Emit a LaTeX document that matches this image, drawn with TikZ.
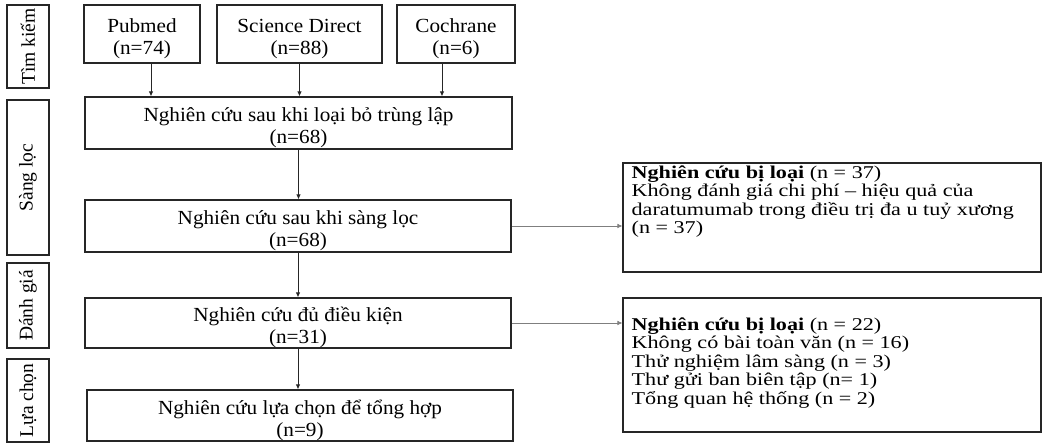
\documentclass[tikz,border=0pt]{standalone}
\usepackage{fontspec}
\setmainfont{Liberation Serif}
\newfontfamily\pfbox{Liberation Serif}[FakeStretch=1.06]
\newfontfamily\pfex{Liberation Serif}[FakeStretch=1.23]
\usetikzlibrary{arrows.meta,positioning}
\definecolor{pfLine}{HTML}{262626}
\definecolor{pfGrey}{HTML}{7F7F7F}

\begin{document}
\begin{tikzpicture}[x=1pt, y=-1pt,
  phase/.style={draw=pfLine, line width=1.1pt, rotate=90, inner sep=0pt, minimum height=42pt, font=\fontsize{19.5}{21}\selectfont},
  stgbox/.style={draw=pfLine, line width=1.1pt, inner sep=0pt, align=center, text height=42pt, text depth=0pt, font=\pfbox\fontsize{20}{22}\selectfont},
  exbox/.style={draw=pfLine, line width=1.1pt, inner sep=0pt, minimum width=418pt},
  extxt/.style={inner sep=0pt, align=left, font=\pfex\fontsize{18}{18.5}\selectfont},
  arr/.style={-{Latex[length=5pt,width=4.5pt]}, line width=0.9pt, pfLine},
  sarr/.style={-{Latex[length=5pt,width=4.5pt]}, line width=0.6pt, pfGrey}]
\useasboundingbox (0,0) rectangle (1045,443);
% giai đoạn
\node[phase, minimum width=83pt] (tk) at (28,46.5) {Tìm kiếm};
\node[phase, minimum width=155pt] (sl) at (28,177.5) {Sàng lọc};
\node[phase, minimum width=85pt] (dg) at (28,305.5) {Đánh giá};
\node[phase, minimum width=83pt] (lc) at (28,400.5) {Lựa chọn};

% nguồn dữ liệu
\node[stgbox, minimum width=116pt, minimum height=58pt] (pub) at (142,34) {Pubmed\\(n=74)};
\node[stgbox, minimum width=165pt, minimum height=58pt] (sd) at (299.5,34) {Science Direct\\(n=88)};
\node[stgbox, minimum width=118pt, minimum height=58pt] (coch) at (456,34) {Cochrane\\(n=6)};

\node[stgbox, minimum width=427pt, minimum height=52pt] (dup) at (298.5,123) {Nghiên cứu sau khi loại bỏ trùng lập\\(n=68)};
\node[stgbox, minimum width=426pt, minimum height=52pt] (scr) at (298,226) {Nghiên cứu sau khi sàng lọc\\(n=68)};
\node[stgbox, minimum width=426pt, minimum height=50pt] (elig) at (298,323) {Nghiên cứu đủ điều kiện\\(n=31)};
\node[stgbox, minimum width=426pt, minimum height=51pt] (incl) at (300,415.5) {Nghiên cứu lựa chọn để tổng hợp\\(n=9)};

% bị loại
\node[exbox, minimum height=109pt] (ex1) at (832,217.5) {};
\node[extxt, below right=3pt and 9pt of ex1.north west] (ex1t)
  {\textbf{Nghiên cứu bị loại} (n = 37)\\Không đánh giá chi phí – hiệu quả của\\daratumumab trong điều trị đa u tuỷ xương\\(n = 37)};
\node[exbox, minimum height=134pt] (ex2) at (832,365) {};
\node[extxt, below right=20pt and 9pt of ex2.north west] (ex2t)
  {\textbf{Nghiên cứu bị loại} (n = 22)\\Không có bài toàn văn (n = 16)\\Thử nghiệm lâm sàng (n = 3)\\Thư gửi ban biên tập (n= 1)\\Tổng quan hệ thống (n = 2)};

\draw[arr] ([xshift=9pt]pub.south) -- ([xshift=9pt]pub.south |- dup.north);
\draw[arr] (sd.south) -- (sd.south |- dup.north);
\draw[arr] ([xshift=-14pt]coch.south) -- ([xshift=-14pt]coch.south |- dup.north);
\foreach \a/\b in {dup/scr,scr/elig,elig/incl}{\draw[arr] (\a.south) -- (\a.south |- \b.north);}
\draw[sarr] (scr.east) -- (scr.east -| ex1.west);
\draw[sarr] (elig.east) -- (elig.east -| ex2.west);
\end{tikzpicture}
\end{document}
